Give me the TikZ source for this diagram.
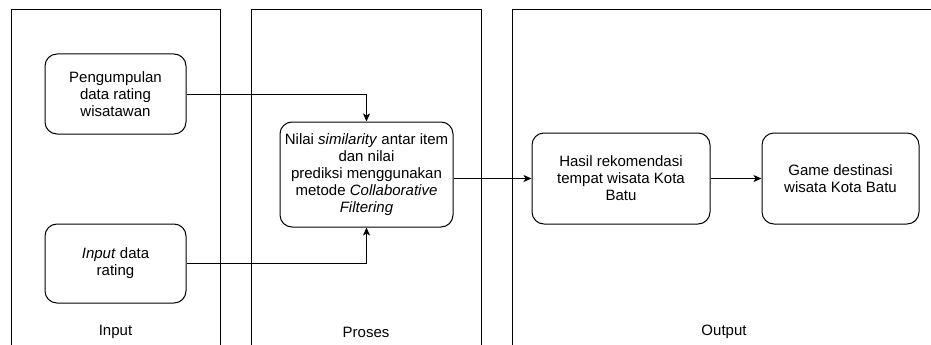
\documentclass[tikz,border=0pt]{standalone}
\usepackage{fontspec}
\setmainfont{Liberation Sans}
\usetikzlibrary{arrows.meta}
\begin{document}
\begin{tikzpicture}[x=1pt,y=-1pt,
  lane/.style={draw, line width=1pt, anchor=north west, inner sep=0pt},
  stepbox/.style={draw, line width=1pt, rounded corners=12pt, align=center,
    inner sep=0pt, font=\fontsize{15}{17}\selectfont},
  lanelabel/.style={font=\fontsize{15}{17}\selectfont, inner sep=0pt},
  flow/.style={-{Stealth[length=8pt,width=7pt,inset=2pt]}, line width=1pt}]
\useasboundingbox (0,0) rectangle (931,345);

% swimlanes, open at the bottom (and at the right for the last one)
\begin{scope}
  \clip (0,0) rectangle (931,345);
  \node[lane, minimum width=209pt, minimum height=380pt] (laneIn) at (11,9.5) {};
  \node[lane, minimum width=230pt, minimum height=380pt] (laneProc) at (251,9.5) {};
  \node[lane, minimum width=440pt, minimum height=380pt] (laneOut) at (512,9.5) {};
\end{scope}

\node[lanelabel] (labIn) at (115.5,332) {Input};
\node[lanelabel] (labProc) at (366,332) {Proses};
\node[lanelabel] (labOut) at (724,332) {Output};

% process steps
\node[stepbox, minimum width=141pt, minimum height=80pt] (collect) at (115.5,94)
  {Pengumpulan\\data rating\\wisatawan};
\node[stepbox, minimum width=141pt, minimum height=79pt] (inputdata) at (115.5,263.5)
  {\textit{Input} data\\rating};
\node[stepbox, minimum width=173pt, minimum height=105pt] (simil) at (366.5,174.5)
  {Nilai \textit{similarity} antar item\\dan nilai\\prediksi menggunakan\\metode \textit{Collaborative}\\\textit{Filtering}};
\node[stepbox, minimum width=178pt, minimum height=91pt] (result) at (621,178.5)
  {Hasil rekomendasi\\tempat wisata Kota\\Batu};
\node[stepbox, minimum width=157pt, minimum height=91pt] (game) at (840.5,178.5)
  {Game destinasi\\wisata Kota Batu};

% connectors
\draw[flow] (collect.east) -| (simil.north);
\draw[flow] (inputdata.east) -| (simil.south);
\draw[flow] (result.west -| simil.east) -- (result.west);
\draw[flow] (result.east) -- (game.west);
\end{tikzpicture}
\end{document}
